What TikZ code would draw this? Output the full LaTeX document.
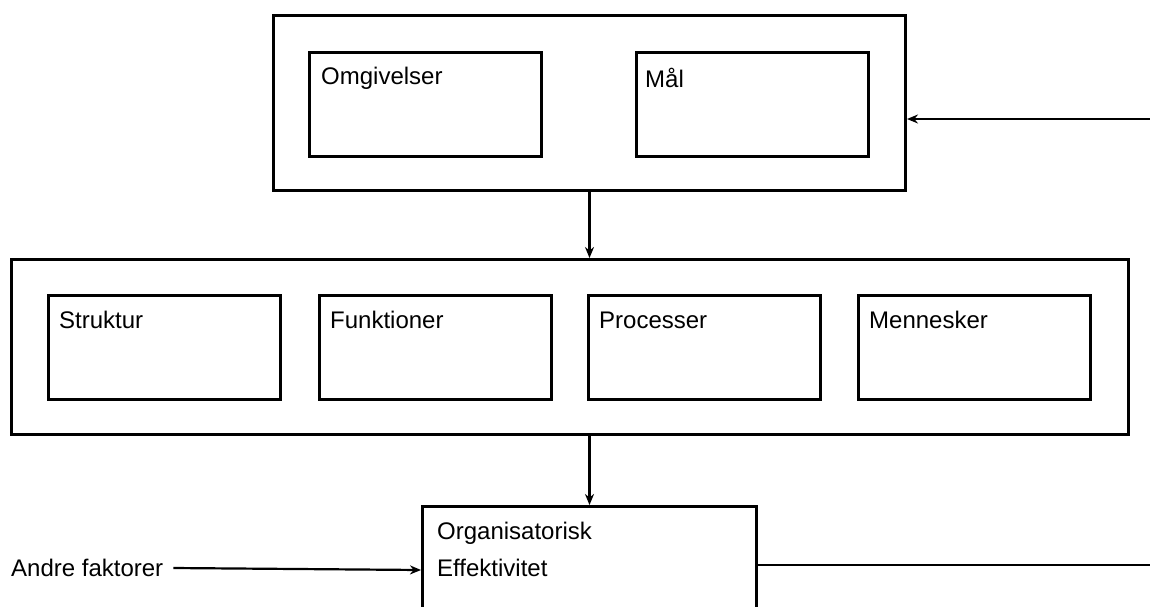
\documentclass[tikz,border=0pt]{standalone}
\usepackage{fontspec}
\setmainfont{Liberation Sans}
\usetikzlibrary{calc,arrows.meta}
\begin{document}
\begin{tikzpicture}[x=1pt,y=-1pt,
  box/.style={draw,line width=3pt,rectangle,inner sep=0pt,anchor=north west},
  inbox/.style={box,line width=2.8pt,minimum width=232pt,minimum height=104pt},
  lbl/.style={anchor=west,inner sep=0pt,font=\fontsize{24}{28}\selectfont},
  conn/.style={line width=2.2pt,-{Stealth[length=11pt,width=9pt]}},
  plain/.style={line width=2.4pt}
]
\path[use as bounding box, clip] (0,0) rectangle (1150,606);
% top group
\node[box,minimum width=632pt,minimum height=175pt] (top) at (272,14) {};
\node[inbox,minimum height=104pt] (omg) at (308,51) {};
\node[inbox,minimum height=104pt] (maal) at (635,51) {};
\node[lbl] (omgT) at ($(omg.north west)+(13,27)$) {Omgivelser};
\node[lbl] (maalT) at ($(maal.north west)+(10,27)$) {Mål};
% middle group
\node[box,minimum width=1117pt,minimum height=175pt] (mid) at (10,258) {};
\node[inbox] (str) at (47,294) {};
\node[inbox] (fun) at (318,294) {};
\node[inbox] (pro) at (587,294) {};
\node[inbox] (men) at (857,294) {};
\node[lbl] (strT) at ($(str.north west)+(12,26)$) {Struktur};
\node[lbl] (funT) at ($(fun.north west)+(12,26)$) {Funktioner};
\node[lbl] (proT) at ($(pro.north west)+(12,26)$) {Processer};
\node[lbl] (menT) at ($(men.north west)+(12,26)$) {Mennesker};
% bottom
\node[box,minimum width=334pt,minimum height=160pt] (eff) at (421,505) {};
\node[lbl] (effT1) at ($(eff.north west)+(16,28)$) {Organisatorisk};
\node[lbl] (effT2) at ($(eff.north west)+(16,63)$) {Effektivitet};
\node[lbl] (andre) at (11,568) {Andre faktorer};
% free ends
\coordinate (inR) at (1152,119);
\coordinate (outR) at (1152,565);
% connectors
\draw[conn] (inR) -- (inR -| top.east);
\draw[conn] (top.south) -- (top.south |- mid.north);
\draw[conn] (mid.south -| top.south) -- (top.south |- eff.north);
\draw[conn] ([xshift=10pt]andre.east) -- ([yshift=-2pt]andre.east -| eff.west);
\draw[plain] (outR -| eff.east) -- (outR);
\end{tikzpicture}
\end{document}
